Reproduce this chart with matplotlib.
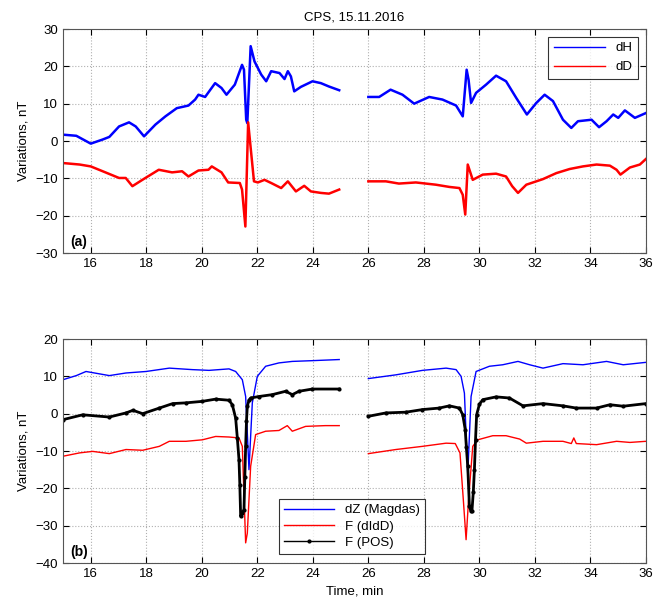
"""
CPS, 15.11.2016 - magnetic variations (dH, dD) and dZ / F comparison
"""
import numpy as np
import matplotlib.pyplot as plt

plt.rcParams['font.family'] = ['Liberation Sans', 'DejaVu Sans']

nan = np.nan

# ---- panel (a) ----
dH_t = [15.0, 15.48, 16.0, 16.43, 16.67, 17.02, 17.38, 17.62, 17.92, 18.33, 18.69, 19.1,
        19.52, 19.76, 19.88, 20.12, 20.48, 20.71, 20.89, 21.19, 21.45, 21.52, 21.6, 21.64,
        21.76, 21.9, 22.14, 22.32, 22.5, 22.8, 22.98, 23.1, 23.21, 23.33, 23.57, 23.99,
        24.29, 24.58, 24.95,
        25.5,
        26.0, 26.39, 26.8, 27.23, 27.65, 28.19, 28.67, 29.16, 29.4, 29.54, 29.61, 29.7,
        29.88, 30.24, 30.6, 30.96, 31.33, 31.71, 32.05, 32.35, 32.65, 33.01, 33.31, 33.55,
        34.04, 34.31, 34.58, 34.82, 35.0, 35.24, 35.6, 36.0]
dH_v = [1.7, 1.4, -0.7, 0.4, 1.1, 3.9, 5.0, 3.9, 1.25, 4.4, 6.6, 8.8,
        9.5, 11.1, 12.4, 11.8, 15.5, 14.2, 12.4, 15.1, 20.4, 19.1, 5.7, 4.8,
        25.4, 21.3, 17.8, 16.0, 18.7, 18.2, 16.6, 18.7, 17.3, 13.3, 14.5, 16.0,
        15.5, 14.6, 13.6,
        nan,
        11.8, 11.8, 13.75, 12.4, 10.0, 11.8, 11.1, 9.5, 6.6, 19.1, 16.4, 10.2,
        12.9, 15.1, 17.5, 16.0, 11.5, 7.1, 10.2, 12.4, 10.7, 5.7, 3.5, 5.3,
        5.7, 3.7, 5.3, 7.1, 6.2, 8.2, 6.2, 7.5]

dD_t = [15.0, 15.6, 16.0, 16.43, 17.02, 17.26, 17.5, 17.86, 18.45, 18.93, 19.29, 19.52,
        19.88, 20.24, 20.36, 20.71, 20.95, 21.37, 21.45, 21.57, 21.67, 21.88, 22.02, 22.26,
        22.5, 22.86, 23.1, 23.39, 23.69, 23.93, 24.29, 24.58, 24.95,
        25.5,
        26.0, 26.63, 27.1, 27.71, 28.43, 28.92, 29.28, 29.4, 29.49, 29.58, 29.76, 30.12,
        30.6, 30.96, 31.18, 31.39, 31.69, 32.29, 32.77, 33.25, 33.73, 34.22, 34.7, 34.94,
        35.08, 35.42, 35.78, 36.0]
dD_v = [-5.9, -6.3, -6.8, -8.1, -9.9, -9.9, -12.1, -10.4, -7.7, -8.4, -8.1, -9.5,
        -7.9, -7.7, -6.8, -8.4, -11.1, -11.25, -13.0, -22.9, 5.0, -10.8, -11.1, -10.4,
        -11.25, -12.6, -10.8, -13.5, -12.0, -13.5, -13.9, -14.1, -13.0,
        nan,
        -10.8, -10.8, -11.4, -11.1, -11.7, -12.3, -12.6, -14.4, -19.7, -6.3, -10.4, -9.0,
        -8.75, -9.5, -12.1, -13.9, -11.7, -10.2, -8.6, -7.5, -6.8, -6.3, -6.6, -7.7,
        -9.0, -7.1, -6.3, -4.8]

# ---- panel (b) ----
dZ_t = [15.0, 15.48, 15.83, 16.67, 17.27, 17.99, 18.83, 19.66, 20.26, 20.98, 21.22, 21.46,
        21.58, 21.7, 21.82, 22.0, 22.3, 22.78, 23.26, 23.98, 24.95,
        25.5,
        26.0, 26.99, 27.95, 28.8, 29.16, 29.34, 29.46, 29.58, 29.7, 29.88, 30.36, 30.84,
        31.39, 31.81, 32.29, 33.01, 33.73, 34.58, 35.18, 36.0]
dZ_v = [9.1, 10.2, 11.3, 10.2, 10.9, 11.3, 12.2, 11.8, 11.6, 12.0, 11.3, 9.1,
        4.6, -15.0, 2.9, 10.0, 12.7, 13.6, 14.0, 14.2, 14.5,
        nan,
        9.4, 10.4, 11.6, 12.2, 11.8, 10.0, 5.5, -16.3, 4.6, 11.3, 12.7, 13.1,
        14.0, 13.1, 12.2, 13.4, 13.1, 14.0, 13.1, 13.75]

Fd_t = [15.0, 15.6, 16.07, 16.67, 17.27, 17.87, 18.47, 18.83, 19.43, 20.02, 20.5, 20.98,
        21.34, 21.46, 21.58, 21.64, 21.76, 21.94, 22.3, 22.78, 23.08, 23.26, 23.74, 24.45,
        24.95,
        25.5,
        26.0, 26.99, 27.95, 28.8, 29.13, 29.3, 29.42, 29.52, 29.61, 29.76, 29.94, 30.48,
        30.96, 31.45, 31.69, 32.29, 33.01, 33.31, 33.4, 33.49, 34.22, 34.94, 35.42, 36.0]
Fd_v = [-11.4, -10.5, -10.1, -10.7, -9.6, -9.8, -8.75, -7.4, -7.4, -7.0, -6.1, -6.25,
        -6.5, -8.75, -34.6, -32.0, -14.1, -5.6, -4.7, -4.5, -3.2, -4.7, -3.4, -3.2,
        -3.2,
        nan,
        -10.7, -9.6, -8.75, -7.9, -8.0, -10.5, -23.0, -33.75, -23.0, -8.75, -7.0, -5.9,
        -5.9, -6.8, -7.9, -7.4, -7.4, -8.0, -6.5, -8.0, -8.3, -7.4, -7.7, -7.4]

Fp_t = [15.0, 15.71, 16.67, 17.27, 17.52, 17.87, 18.47, 18.95, 19.43, 20.02, 20.5, 20.98,
        21.1, 21.22, 21.28, 21.34, 21.37, 21.4, 21.46, 21.52, 21.55, 21.58, 21.61, 21.64,
        21.7, 21.76, 22.06, 22.54, 23.02, 23.26, 23.5, 23.98, 24.95,
        25.5,
        26.0, 26.63, 27.35, 27.95, 28.55, 28.92, 29.28, 29.4, 29.49, 29.53, 29.58, 29.64,
        29.69, 29.73, 29.78, 29.82, 29.86, 29.9, 30.0, 30.12, 30.6, 31.08, 31.57, 32.29,
        33.01, 33.49, 34.22, 34.7, 35.18, 36.0]
Fp_v = [-1.6, -0.3, -0.9, 0.2, 0.9, 0.0, 1.5, 2.7, 2.9, 3.3, 3.9, 3.6,
        2.4, -1.2, -6.5, -12.3, -19.0, -27.5, -26.6, -25.7, -17.0, -8.75, -2.0, 2.0,
        3.6, 4.2, 4.6, 5.1, 6.0, 5.1, 6.0, 6.6, 6.6,
        nan,
        -0.7, 0.2, 0.4, 1.1, 1.5, 2.1, 1.5, -0.3, -4.3, -9.0, -14.1, -24.8,
        -26.0, -26.2, -21.0, -15.0, -7.0, -0.3, 2.5, 3.75, 4.5, 4.2, 2.1, 2.7,
        2.1, 1.5, 1.5, 2.4, 2.0, 2.7]

x_ticks = [16, 18, 20, 22, 24, 26, 28, 30, 32, 34, 36]


def style_axis(ax, ylim, yticks):
    ax.set_xlim(15, 36)
    ax.set_ylim(*ylim)
    ax.set_xticks(x_ticks)
    ax.set_yticks(yticks)
    ax.grid(True, linestyle=':', color='#b0b0b0', linewidth=0.8)
    ax.tick_params(direction='in', top=True, right=True, labelsize=9.5, length=4)
    for s in ax.spines.values():
        s.set_color('#555555')
    ax.set_ylabel('Variations, nT', fontsize=9.5)


fig = plt.figure(figsize=(6.65, 6.03), dpi=100)
ax1 = fig.add_axes([0.0947, 0.5804, 0.8767, 0.3715])
ax2 = fig.add_axes([0.0947, 0.0663, 0.8767, 0.3715])

ax1.plot(dH_t, dH_v, color='blue', linewidth=1.8, label='dH')
ax1.plot(dD_t, dD_v, color='red', linewidth=1.8, label='dD')
style_axis(ax1, (-30, 30), range(-30, 31, 10))
ax1.set_title('CPS, 15.11.2016', fontsize=9.5, pad=6)
ax1.text(0.012, 0.03, '(a)', transform=ax1.transAxes, fontsize=10, fontweight='bold')
leg1 = ax1.legend(loc='upper right', fontsize=9.5, fancybox=False, edgecolor='black',
                  handlelength=3.9, borderaxespad=0.6)
leg1.get_frame().set_linewidth(0.8)
for ln in leg1.get_lines():
    ln.set_linewidth(1.0)

ax2.plot(dZ_t, dZ_v, color='blue', linewidth=1.0, label='dZ (Magdas)')
ax2.plot(Fd_t, Fd_v, color='red', linewidth=1.0, label='F (dIdD)')
ax2.plot(Fp_t, Fp_v, color='black', linewidth=2.0, marker='.', markersize=4,
         label='F (POS)')
style_axis(ax2, (-40, 20), range(-40, 21, 10))
ax2.set_xlabel('Time, min', fontsize=9.5)
ax2.text(0.012, 0.03, '(b)', transform=ax2.transAxes, fontsize=10, fontweight='bold')
leg2 = ax2.legend(loc='lower left', bbox_to_anchor=(0.37, 0.04), fontsize=9.5,
                  fancybox=False, edgecolor='black', handlelength=3.8,
                  borderaxespad=0.0, labelspacing=0.3)
leg2.get_frame().set_linewidth(0.8)
leg2.get_lines()[2].set_linewidth(1.0)

fig.savefig('out.png', dpi=100)
